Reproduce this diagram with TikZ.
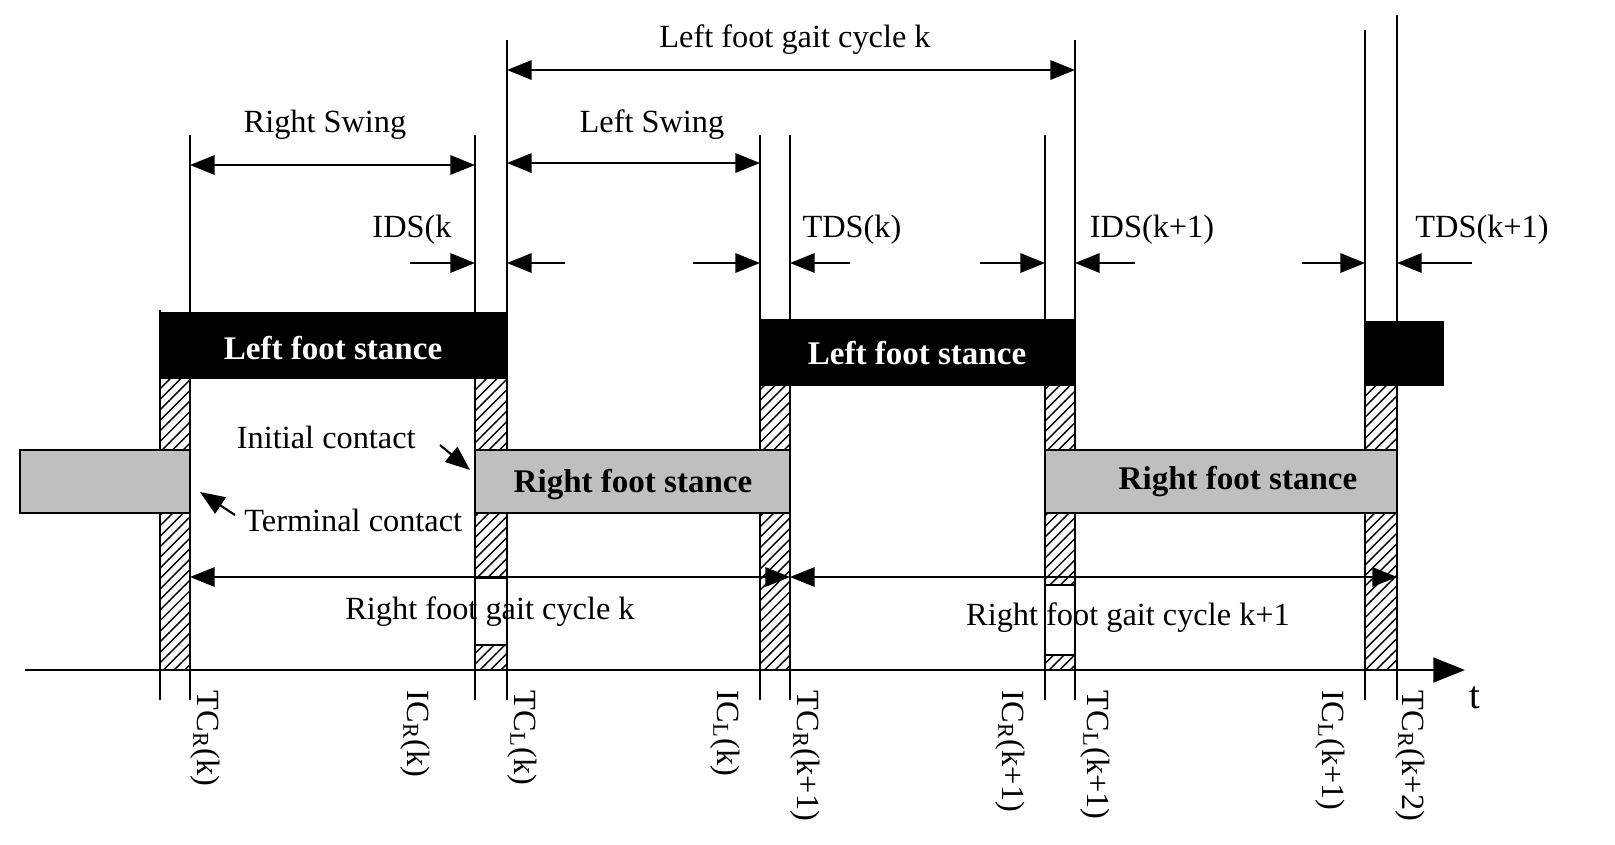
\documentclass[tikz,border=0pt]{standalone}
\usepackage{fontspec}
\setmainfont{Liberation Serif}
\usetikzlibrary{patterns,arrows.meta}
\begin{document}
\begin{tikzpicture}[x=0.1mm,y=-0.1mm,font=\fontsize{9.2}{11}\selectfont,
  vline/.style={line width=0.6pt},
  dim/.style={line width=0.6pt,{Triangle[length=7pt,width=5.5pt]}-{Triangle[length=7pt,width=5.5pt]}},
  tick/.style={line width=0.6pt,-{Triangle[length=7pt,width=5.5pt]}},
  lstance/.style={fill=black,draw=black},
  rstance/.style={fill=black!25,draw=black,line width=0.6pt},
  hatch/.style={pattern=north east lines,draw=black,line width=0.6pt},
  stancetext/.style={font=\fontsize{9.4}{11}\selectfont\bfseries},
  event/.style={rotate=-90,anchor=west,inner sep=0pt}]
  % vertical lines
  \foreach \x/\t in {160/310,190/135,475/135,507/40,760/135,790/135,1045/135,1075/40,1365/30,1397/15}
    \draw[vline] (\x,\t) -- (\x,700);
  % double support
  \draw[hatch] (160,378) rectangle (190,670);
  \draw[hatch] (475,378) rectangle (507,450);
  \draw[hatch] (475,513) rectangle (507,578);
  \draw[hatch] (475,645) rectangle (507,670);
  \draw[hatch] (760,385) rectangle (790,450);
  \draw[hatch] (760,513) rectangle (790,670);
  \draw[hatch] (1045,385) rectangle (1075,450);
  \draw[hatch] (1045,513) rectangle (1075,585);
  \draw[hatch] (1045,655) rectangle (1075,670);
  \draw[hatch] (1365,385) rectangle (1397,670);
  % stance bars
  \draw[lstance] (160,313) rectangle (507,378);
  \draw[lstance] (760,320) rectangle (1075,385);
  \draw[lstance] (1365,322) rectangle (1443,385);
  \draw[rstance] (20,450) rectangle (190,513);
  \draw[rstance] (475,450) rectangle (790,513);
  \draw[rstance] (1045,450) rectangle (1397,513);
  \node[stancetext,text=white] (ls1) at (333,348) {Left foot stance};
  \node[stancetext,text=white] (ls2) at (917,353) {Left foot stance};
  \node[stancetext] (rs1) at (633,484) {Right foot stance};
  \node[stancetext] (rs2) at (1238,481) {Right foot stance};
  % time axis
  \draw[line width=0.8pt,-{Triangle[length=9pt,width=7pt]}] (25,670) -- (1465,670);
  \node (t) at (1475,698) {\fontsize{11}{13}\selectfont t};
  % cycles and swings
  \draw[dim] (507,70) -- (1075,70);
  \node (lgc) at (795,40) {Left foot gait cycle k};
  \draw[dim] (190,165) -- (475,165);
  \node (rsw) at (325,125) {Right Swing};
  \draw[dim] (507,163) -- (760,163);
  \node (lsw) at (652,125) {Left Swing};
  \draw[dim] (190,577) -- (790,577);
  \node (rgc1) at (490,612) {Right foot gait cycle k};
  \draw[dim] (790,577) -- (1397,577);
  \node (rgc2) at (1128,618) {Right foot gait cycle k+1};
  % double support ticks
  \foreach \a/\b in {410/475,565/507,693/760,850/790,980/1045,1135/1075,1302/1365,1472/1397}
    \draw[tick] (\a,263) -- (\b,263);
  \node (ids1) at (412,230) {IDS(k};
  \node (tds1) at (852,230) {TDS(k)};
  \node (ids2) at (1152,230) {IDS(k+1)};
  \node (tds2) at (1482,230) {TDS(k+1)};
  % contacts
  \node[anchor=east] (ic) at (428,437) {Initial contact};
  \draw[tick] (440,445) -- (470,470);
  \node[anchor=west] (tc) at (232,520) {Terminal contact};
  \draw[tick] (235,515) -- (200,492);
  % events
  \foreach \x/\e in {205/{TC$_\mathrm{R}$(k)},415/{IC$_\mathrm{R}$(k)},522/{TC$_\mathrm{L}$(k)},
    725/{IC$_\mathrm{L}$(k)},805/{TC$_\mathrm{R}$(k+1)},1010/{IC$_\mathrm{R}$(k+1)},
    1095/{TC$_\mathrm{L}$(k+1)},1330/{IC$_\mathrm{L}$(k+1)},1410/{TC$_\mathrm{R}$(k+2)}}
    \node[event] at (\x,690) {\e};
  \pgfresetboundingbox
  \useasboundingbox (0,0) rectangle (1615,844);
\end{tikzpicture}
\end{document}
